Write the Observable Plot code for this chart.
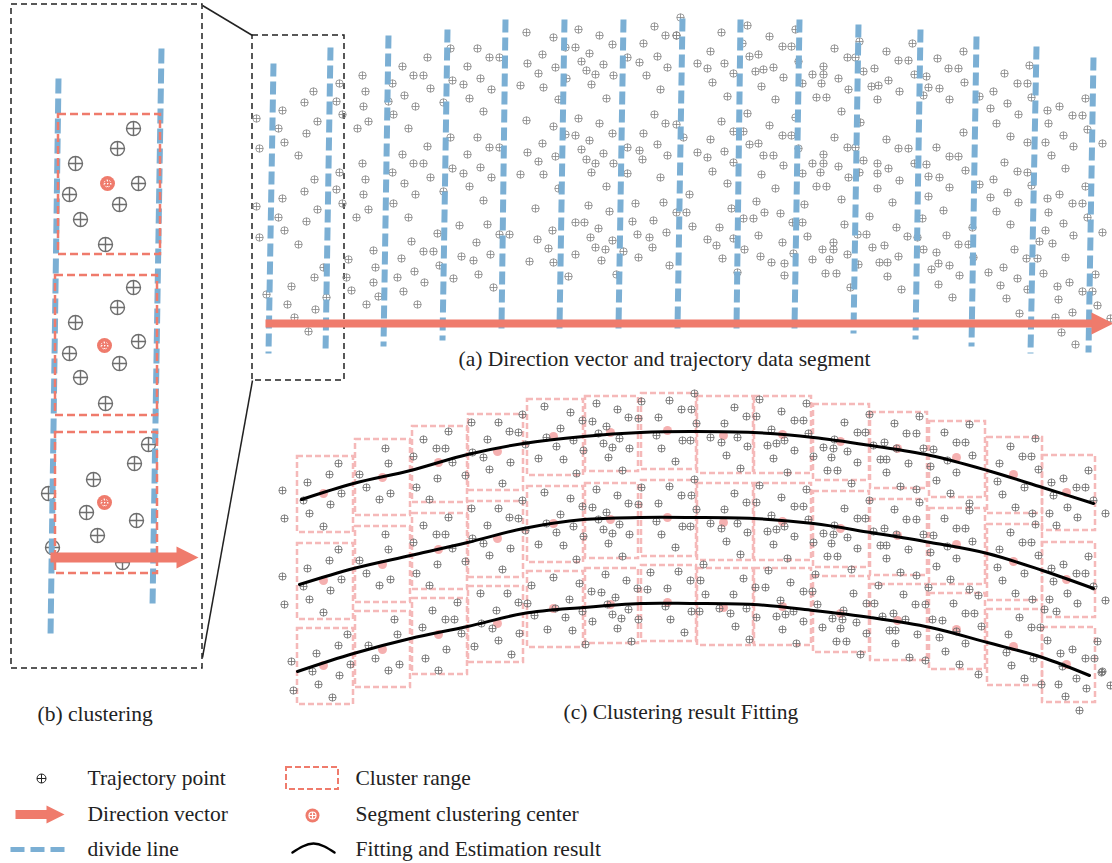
<!DOCTYPE html>
<html><head><meta charset="utf-8">
<script src="https://cdn.jsdelivr.net/npm/d3@7"></script>
<script src="https://cdn.jsdelivr.net/npm/@observablehq/plot@0.6"></script>
<style>html,body{margin:0;padding:0;background:#fff;}#chart svg{display:block;}</style>
</head><body><div id="chart"></div>
<script>
// ---------- data (diagram units = reference pixels) ----------
// Panel (a): trajectory points
const aPoints = [
[339,83],[313,91],[304,102],[336,101],[282,110],[256,118],[342,114],[317,121],[278,128],[306,133],[284,142],[259,148],[298,155],
[339,172],[314,179],[304,191],[336,189],[282,198],[342,203],[256,206],[317,209],[278,217],[306,221],[284,230],[259,237],[298,244],
[348,259],[323,267],[314,277],[346,277],[291,286],[266,294],[351,290],[326,297],[287,304],[315,309],[294,317],[308,331],
[362,75],[365,91],[363,106],[368,121],[357,128],[362,163],[365,179],[363,194],[368,209],[356,217],[373,250],[375,267],[373,282],[378,296],[366,304],
[402,66],[413,75],[423,75],[427,57],[430,88],[404,95],[415,106],[392,83],[393,114],[388,101],[408,128],[427,146],[402,154],[413,163],[423,163],
[430,177],[404,183],[415,194],[392,172],[393,203],[408,217],[411,241],[423,251],[433,251],[401,258],[437,233],[397,277],[414,271],[424,282],[403,291],[417,304],
[450,48],[477,48],[467,66],[489,57],[499,57],[452,80],[463,84],[480,78],[491,89],[469,98],[483,111],[443,102],
[450,137],[477,137],[467,154],[489,147],[499,147],[452,168],[463,173],[480,167],[491,177],[469,186],[483,200],[443,191],
[459,225],[487,224],[476,242],[499,234],[509,234],[461,256],[473,260],[490,254],[478,274],[453,278],[493,287],[439,265],
[526,32],[553,37],[578,29],[599,35],[542,54],[527,63],[538,73],[555,67],[520,85],[543,87],[558,99],[565,47],[575,47],[589,53],[581,61],[603,64],
[586,70],[595,74],[613,75],[591,84],[606,98],[566,78],[612,44],[627,57],[643,43],[654,26],[665,35],[676,35],[639,62],[646,75],[657,56],[667,67],[660,89],
[526,120],[553,126],[578,118],[599,123],[542,143],[527,152],[538,161],[555,156],[520,174],[543,174],[558,188],[565,134],[575,135],[589,140],[581,149],[603,153],
[586,159],[595,163],[613,163],[591,172],[606,186],[612,133],[627,147],[643,133],[654,114],[665,123],[639,150],[642,159],[657,144],[667,155],[660,177],[627,173],
[535,208],[552,230],[537,239],[548,248],[529,261],[553,262],[568,276],[575,222],[584,222],[588,205],[598,228],[590,237],[609,211],[595,247],[605,249],[575,254],
[601,260],[612,240],[616,274],[632,221],[635,203],[653,220],[637,234],[649,237],[663,202],[666,232],[652,247],[638,257],[669,265],[623,251],
[680,17],[676,35],[721,32],[710,51],[697,63],[707,68],[724,63],[733,73],[712,82],[727,96],[747,25],[742,43],[769,36],[782,46],[791,46],[749,56],[758,54],
[755,71],[763,69],[773,67],[783,77],[761,86],[775,99],[795,29],[798,61],[802,83],[834,48],[847,57],[855,57],[859,41],[812,74],[823,66],[823,74],[838,78],
[821,83],[848,89],[816,97],[826,97],[841,111],[863,71],[874,68],[886,51],[898,60],[908,60],[871,86],[878,85],[888,80],[899,91],[877,99],[912,43],[914,74],
[926,76],[928,87],[939,88],[923,95],[949,99],[937,58],[948,68],[958,68],[963,51],[964,82],[979,96],[1004,73],[1017,83],[1027,83],[993,91],[990,108],[996,123],
[1007,103],[1018,114],[1010,136],[1029,65],[1031,97],[1047,110],[1059,106],[1048,123],[1072,115],[1082,115],[1063,135],[1045,142],[1073,146],[1051,155],[1065,168],
[1085,98],[1087,129],[1102,143],[1027,142],
[676,124],[683,137],[721,121],[710,139],[697,152],[707,157],[724,151],[733,162],[712,171],[727,183],[747,113],[733,131],[743,131],[769,125],[782,135],[791,135],
[749,144],[758,143],[763,155],[773,155],[783,165],[761,174],[775,188],[795,117],[798,148],[802,173],[689,194],[676,212],[686,212],[692,226],[707,239],[716,245],
[719,227],[722,258],[731,208],[733,238],[743,218],[753,218],[756,201],[764,212],[780,213],[758,235],[744,249],[737,272],[760,256],[771,262],[784,263],[784,275],
[782,242],[792,222],[802,222],[793,253],[804,204],[807,236],[812,259],[823,154],[823,163],[812,163],[820,172],[838,166],[816,186],[826,186],[834,137],[847,147],
[855,147],[860,122],[863,160],[859,172],[848,177],[841,199],[822,249],[833,249],[833,242],[829,259],[825,273],[836,273],[844,224],[847,254],[850,287],[857,234],
[866,234],[858,264],[869,216],[872,247],[884,245],[879,262],[887,262],[887,276],[898,256],[901,289],[877,163],[877,173],[877,188],[888,168],[886,139],[898,148],
[908,148],[899,180],[892,202],[896,227],[907,236],[917,237],[923,249],[936,252],[931,269],[938,263],[949,265],[938,284],[952,297],[959,275],[946,235],[958,244],
[968,244],[914,163],[926,164],[928,176],[939,177],[928,196],[922,218],[936,147],[949,156],[958,156],[949,187],[943,210],[963,132],[965,170],[972,227],[973,257],
[979,184],[990,197],[993,179],[996,211],[1004,162],[1017,171],[1027,172],[1007,192],[1018,202],[1010,224],[1014,249],[988,272],[1003,267],[1017,278],[1000,285],
[1006,298],[1019,313],[1026,258],[1037,258],[1027,289],[1031,185],[1047,198],[1059,194],[1048,212],[1072,203],[1082,203],[1063,223],[1045,230],[1039,241],[1052,243],
[1073,235],[1065,257],[1043,273],[1057,286],[1069,282],[1058,299],[1082,291],[1092,291],[1072,312],[1055,317],[1061,332],[1075,344],[1085,186],[1087,217],[1102,232],
[1095,274],[1097,305],[1110,318]
];
// Panel (a): divide lines (top x, top y, bottom x, bottom y)
const divTopX = [273,330,388,447,505,564,623,682,740,799,858,920,976,1036,1093];
const divTopY = [63,47,35,29,19,19,19,18,19,19,24,29,36,46,57];
const divBotX = [268,325,383,442,501,559,618,677,736,794,853,915,971,1030,1088];
const divBotY = [353,353,346,340,328,328,328,328,328,328,333,339,346,353,352];

// Panel (b)
const bPoints = [[133,128],[117,148],[75,163],[138,183],[69,194],[119,204],[80,219],[105,244],
[133,287],[117,307],[75,322],[138,341],[69,353],[119,363],[80,377],[105,403],
[148,444],[134,463],[93,479],[86,512],[136,520],[97,535],[52,547],[122,562],[48,493]];
const bCenters = [[107,183],[104,345],[104,502]];
const bBoxX1 = [58,55,55], bBoxX2 = [160,157,157], bBoxY1 = [114,275,432], bBoxY2 = [254,415,573];
const bDivX1 = [58,161], bDivY1 = [78,48], bDivX2 = [50,152], bDivY2 = [637,607];

// Zoom frames and connectors
const frameX1 = [11,252], frameX2 = [202,344], frameY1 = [4,35], frameY2 = [668,380];
const connX1 = [202,202], connY1 = [5,657], connX2 = [252,252], connY2 = [35,380];

// Arrows: start x, end x (tip), y, shaft width, head half-size
const arrowX1 = [265,50,15], arrowTip = [1113,198,64], arrowY = [323,557,814], arrowW = [8,10,9], arrowHead = [11,11,9];

// Panel (c): cluster boxes (top row), row offsets
const boxX1 = [297,355,412,468,527,585,641,697,754,813,870,929,987,1042];
const boxX2 = [353,410,467,523,583,638,696,753,811,869,927,985,1042,1095];
const boxY1 = [456,439,426,414,399,396,393,396,396,404,412,421,437,455];
const boxY2 = [532,515,502,490,475,471,469,473,473,480,488,497,513,530];
const rowDY = [0,87,172];
const cRow1Points = [
[338,463],[329,474],[307,482],[341,493],[303,500],[330,504],[309,513],[323,526],
[385,448],[359,474],[388,463],[366,487],[390,493],[379,499],
[448,431],[423,439],[436,448],[445,448],[413,456],[452,462],[437,478],[416,487],[429,499],[465,475],
[471,422],[498,422],[509,431],[518,432],[487,439],[472,452],[483,457],[510,462],[489,469],[502,483],[522,414],[525,444],
[544,406],[570,412],[582,420],[560,428],[546,437],[556,446],[573,440],[538,458],[563,459],[583,450],[576,473],
[596,403],[617,409],[592,421],[606,426],[628,417],[638,418],[598,433],[603,443],[612,447],[619,438],[629,448],[608,457],[622,470],[641,401],
[669,400],[658,417],[681,409],[656,435],[661,448],[682,440],[675,461],[694,393],[691,409],[696,423],[690,440],
[734,407],[746,416],[724,423],[710,437],[721,442],[737,437],[747,446],[726,455],[740,468],
[759,399],[781,411],[806,403],[794,420],[803,420],[771,429],[756,416],[767,445],[776,443],[784,440],[794,450],[773,458],[808,433],[787,472],
[844,422],[857,432],[865,432],[834,439],[823,447],[833,448],[847,451],[831,457],[857,462],[827,470],[837,470],[851,483],[813,456],
[869,414],[919,416],[894,423],[906,433],[916,433],[884,442],[873,445],[896,448],[880,459],[886,459],[908,463],[886,472],[900,486],[916,489],[923,448],[930,466],
[944,432],[969,424],[956,442],[965,442],[933,449],[972,455],[947,460],[936,480],[956,472],[950,493],[969,503],
[1010,446],[1022,456],[1031,456],[999,463],[1038,469],[997,481],[1024,487],[1002,494],[1015,507],[1032,513],[1035,438],
[1088,470],[1063,478],[1076,487],[1085,487],[1051,482],[1053,495],[1067,507],[1049,513],[1077,517],[1056,525],[1093,500]
];
const cPointRowDX = [0,0,9], cPointRowDY = [0,86,171];
const cOutside = [[282,490],[284,518],[282,576],[284,604],[291,661],[293,690],[1105,513],[1105,600],[1101,672],[1110,685],[1079,710]];
const cCentersRow1 = [[323,493],[382,477],[438,462],[497,451],[553,436],[610,432],[667,430],[723,435],[782,434],[840,441],[897,448],[956,457],[1013,474],[1066,492]];
const fitCurve1 = [[301,499],[353,483],[410,470],[467,454],[523,443],[583,436],[640,432],[690,431],[753,432],[813,437],[870,445],[930,455],[987,470],[1042,487],[1093,503]];
const fitCurve2 = [[299,584],[353,568],[410,555],[467,542],[523,528],[583,519],[640,517],[690,517],[753,518],[813,523],[870,532],[930,542],[987,553],[1042,570],[1093,588]];
const fitCurve3 = [[297,671],[353,653],[410,638],[467,626],[523,613],[583,607],[640,603],[690,603],[753,604],[813,610],[870,617],[930,627],[987,642],[1042,657],[1089,675]];

// Captions
const captionText = ["(a) Direction vector and trajectory data segment","(b) clustering","(c) Clustering result Fitting"];
const captionX = [458,37,563], captionY = [359,714,712];

// Legend
const legendLabels = ["Trajectory point","Direction vector","divide line","Cluster range","Segment clustering center","Fitting and Estimation result"];
const legendTextX = [87,87,87,355,355,355], legendTextY = [778,814,849,778,814,849];
const legendPoint = [[41,778]], legendCenter = [[312,815]];
const legendDash = {x1:10,x2:70,y:849};
const legendBox = {x1:286,x2:338,y1:767,y2:789};
const legendArc = [[292,852],[302,846],[313,843],[324,846],[334,852]];

// ---------- styles ----------
const BLUE = "#7BAFD4", SALMON = "#EF7B6C", PINK = "#F5B9B9", GRAY = "#858585";
const FONT = "Liberation Serif, Times New Roman, serif";
const symPlus = {draw(ctx, size){const r=Math.sqrt(size/Math.PI);ctx.moveTo(r,0);ctx.arc(0,0,r,0,2*Math.PI);ctx.moveTo(-r,0);ctx.lineTo(r,0);ctx.moveTo(0,-r);ctx.lineTo(0,r);}};
const symHead = {draw(ctx, size){const r=Math.sqrt(size/Math.PI);ctx.moveTo(r,0);ctx.lineTo(-r,-r);ctx.lineTo(-r,r);ctx.closePath();}};

// ---------- derived tables ----------
const divA = divTopX.map((x,i)=>({x1:x,y1:divTopY[i],x2:divBotX[i],y2:divBotY[i]}));
const divB = bDivX1.map((x,i)=>({x1:x,y1:bDivY1[i],x2:bDivX2[i],y2:bDivY2[i]}));
const bBoxes = bBoxX1.map((x,i)=>({x1:x,x2:bBoxX2[i],y1:bBoxY1[i],y2:bBoxY2[i]}));
const frames = frameX1.map((x,i)=>({x1:x,x2:frameX2[i],y1:frameY1[i],y2:frameY2[i]}));
const conns = connX1.map((x,i)=>({x1:x,y1:connY1[i],x2:connX2[i],y2:connY2[i]}));
const cBoxes = rowDY.flatMap(dy=>boxX1.map((x,i)=>({x1:x,x2:boxX2[i],y1:boxY1[i]+dy,y2:boxY2[i]+dy})));
const cPoints = cPointRowDY.flatMap((dy,r)=>cRow1Points.map(([x,y])=>[x+cPointRowDX[r],y+dy])).concat(cOutside);
const cCenters = rowDY.flatMap(dy=>cCentersRow1.map(([x,y])=>[x,y+dy]));
const fits = [fitCurve1,fitCurve2,fitCurve3];
const captions = captionText.map((t,i)=>({t,x:captionX[i],y:captionY[i]}));
const legend = legendLabels.map((t,i)=>({t,x:legendTextX[i],y:legendTextY[i]}));

const X = d=>d[0], Y = d=>d[1];
const arrowMarks = arrowX1.map((x1,i)=>[
  Plot.link([{x1, x2:arrowTip[i]-2*arrowHead[i]+1, y:arrowY[i]}], {x1:"x1",x2:"x2",y1:"y",y2:"y",stroke:SALMON,strokeWidth:arrowW[i]}),
  Plot.dot([{x:arrowTip[i]-arrowHead[i], y:arrowY[i]}], {x:"x",y:"y",r:arrowHead[i],symbol:symHead,fill:SALMON,stroke:"none"})
]);

const chart = Plot.plot({
  width:1112, height:863, margin:0,
  x:{domain:[0,1112], range:[0,1112], axis:null},
  y:{domain:[0,863], range:[0,863], axis:null},
  style:{background:"#fff"},
  marks:[
    // frames & connectors
    Plot.rect(frames,{x1:"x1",x2:"x2",y1:"y1",y2:"y2",fill:"none",stroke:"#222",strokeWidth:1.5,strokeDasharray:"6,4"}),
    Plot.link(conns,{x1:"x1",y1:"y1",x2:"x2",y2:"y2",stroke:"#222",strokeWidth:1.5}),
    // panel (a)
    Plot.dot(aPoints,{x:X,y:Y,r:3.7,symbol:symPlus,fill:"none",stroke:GRAY,strokeWidth:0.8}),
    Plot.link(divA,{x1:"x1",y1:"y1",x2:"x2",y2:"y2",stroke:BLUE,strokeWidth:6,strokeDasharray:"13,5"}),
    // panel (b)
    Plot.dot(bPoints,{x:X,y:Y,r:7,symbol:symPlus,fill:"none",stroke:"#6e6e6e",strokeWidth:1.4}),
    Plot.link(divB,{x1:"x1",y1:"y1",x2:"x2",y2:"y2",stroke:BLUE,strokeWidth:6,strokeDasharray:"15,5"}),
    Plot.rect(bBoxes,{x1:"x1",x2:"x2",y1:"y1",y2:"y2",fill:"none",stroke:SALMON,strokeWidth:2.5,strokeDasharray:"8,4"}),
    Plot.dot(bCenters,{x:X,y:Y,r:7.5,fill:SALMON,stroke:"none"}),
    Plot.dot(bCenters,{x:X,y:Y,r:3.5,symbol:symPlus,fill:"none",stroke:"#fff",strokeWidth:0.9,strokeDasharray:"1.5,1.5"}),
    // panel (c)
    Plot.rect(cBoxes,{x1:"x1",x2:"x2",y1:"y1",y2:"y2",fill:"none",stroke:PINK,strokeWidth:2.5,strokeDasharray:"6,3"}),
    Plot.dot(cCenters,{x:X,y:Y,r:4.5,fill:"#F29595",fillOpacity:0.75,stroke:"none"}),
    Plot.dot(cPoints,{x:X,y:Y,r:3.6,symbol:symPlus,fill:"none",stroke:"#6a6a6a",strokeWidth:0.8}),
    ...fits.map(f=>Plot.line(f,{x:X,y:Y,curve:"catmull-rom",stroke:"#000",strokeWidth:3})),
    // arrows
    ...arrowMarks,
    // captions
    Plot.text(captions,{x:"x",y:"y",text:"t",textAnchor:"start",fontSize:21.5,fontFamily:FONT,fill:"#222"}),
    // legend
    Plot.dot(legendPoint,{x:X,y:Y,r:4.5,symbol:symPlus,fill:"none",stroke:"#222",strokeWidth:1}),
    Plot.link([legendDash],{x1:"x1",x2:"x2",y1:"y",y2:"y",stroke:BLUE,strokeWidth:5,strokeDasharray:"14,6"}),
    Plot.rect([legendBox],{x1:"x1",x2:"x2",y1:"y1",y2:"y2",fill:"none",stroke:SALMON,strokeWidth:2,strokeDasharray:"6,3"}),
    Plot.dot(legendCenter,{x:X,y:Y,r:7,fill:SALMON,stroke:"none"}),
    Plot.dot(legendCenter,{x:X,y:Y,r:3.5,symbol:symPlus,fill:"none",stroke:"#fff",strokeWidth:1.2}),
    Plot.line(legendArc,{x:X,y:Y,curve:"natural",stroke:"#000",strokeWidth:2.5}),
    Plot.text(legend,{x:"x",y:"y",text:"t",textAnchor:"start",fontSize:21.5,fontFamily:FONT,fill:"#222"})
  ]
});
document.getElementById("chart").appendChild(chart);
</script>
</body></html>
